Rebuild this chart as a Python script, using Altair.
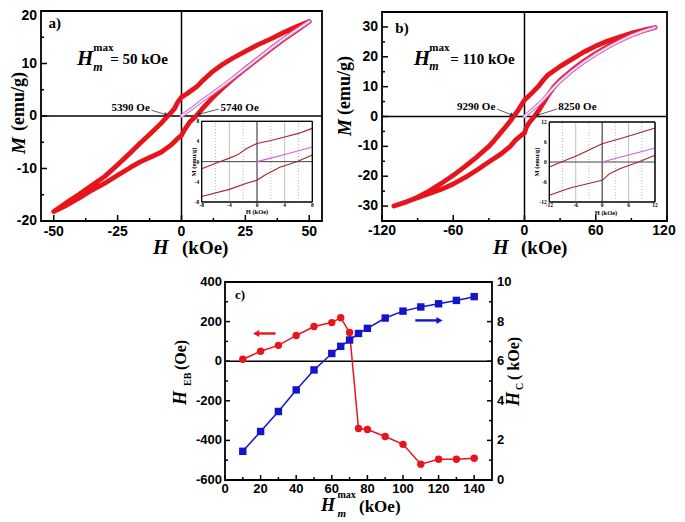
import altair as alt
import pandas as pd

# ---------------- data ----------------
# Panel a : H_m^max = 50 kOe  (H in kOe, M in emu/g)
A_UP_H = [50, 45, 40, 35, 30, 25, 20, 16, 12, 8, 6, 4, 2, 0, -1.5, -2.75, -4, -5.39, -8, -12, -16, -20, -25, -30, -35, -40, -45, -50]
A_UP_M = [18.0, 17.0, 15.9, 14.7, 13.6, 12.3, 11.0, 9.8, 8.4, 6.6, 5.6, 4.9, 4.2, 3.6, 2.6, 1.4, 0.7, 0.0, -1.4, -3.3, -5.1, -7.0, -9.3, -11.5, -13.2, -14.9, -16.5, -18.2]
A_LO_H = [-50, -45, -40, -35, -30, -25, -20, -16, -12, -8, -4, -1.3, 0, 1.1, 3.3, 5.74, 8, 12, 16, 20, 25, 30, 35, 40, 45, 50]
A_LO_M = [-18.2, -17.0, -15.6, -14.1, -12.8, -11.3, -9.8, -8.7, -7.8, -6.9, -5.5, -4.2, -3.7, -2.7, -1.1, 0.0, 1.3, 3.4, 5.3, 7.0, 9.0, 10.9, 12.8, 14.6, 16.3, 18.0]
A_VIR_H = [0, 2, 4, 8, 12, 16, 20, 25, 30, 35, 40, 45, 50]
A_VIR_M = [0.0, 0.7, 1.4, 2.9, 4.3, 5.7, 7.2, 9.1, 11.0, 12.9, 14.7, 16.4, 18.0]

# Panel b : H_m^max = 110 kOe
B_UP_H = [110, 100, 90, 80, 70, 60, 50, 40, 30, 20, 16, 12, 7.8, 4, 0, -2.4, -5.5, -9.29, -12, -16, -20, -25, -30, -40, -50, -60, -70, -80, -90, -100, -110]
B_UP_M = [29.8, 28.9, 27.9, 26.6, 25.3, 23.6, 21.6, 19.2, 16.8, 14.0, 12.3, 10.2, 8.5, 7.0, 5.5, 4.0, 2.0, 0.0, -1.5, -3.5, -5.4, -7.8, -10.0, -13.5, -16.7, -19.7, -22.4, -24.9, -27.0, -28.7, -30.0]
B_LO_H = [-110, -100, -90, -80, -70, -60, -50, -40, -30, -20, -12, -7.3, -2.4, 0, 1.7, 4, 8.25, 12, 16, 20, 25, 30, 40, 50, 60, 70, 80, 90, 100, 110]
B_LO_M = [-30.0, -28.6, -27.2, -25.8, -24.4, -22.6, -20.4, -17.9, -15.2, -12.6, -10.0, -7.8, -6.2, -5.5, -3.5, -2.0, 0.0, 2.0, 4.6, 7.2, 10.0, 12.1, 15.5, 18.5, 21.1, 23.4, 25.5, 27.3, 28.7, 29.8]
B_VIR_H = [0, 4, 8, 12, 16, 20, 25, 30, 40, 50, 60, 70, 80, 90, 100, 110]
B_VIR_M = [0.0, 1.4, 2.8, 4.2, 5.8, 7.6, 9.8, 11.8, 15.2, 18.2, 20.8, 23.1, 25.2, 27.1, 28.6, 29.8]

# Panel c
C_HM = [10, 20, 30, 40, 50, 60, 65, 70, 75, 80, 90, 100, 110, 120, 130, 140]
C_HEB = [10, 50, 80, 130, 175, 195, 220, 145, -340, -345, -380, -420, -520, -495, -495, -490]
C_HC = [1.45, 2.45, 3.46, 4.55, 5.56, 6.39, 6.75, 7.07, 7.40, 7.66, 8.18, 8.53, 8.74, 8.90, 9.07, 9.26]

# tick values
A_XT = [-50, -25, 0, 25, 50]
A_XM = [-37.5, -12.5, 12.5, 37.5]
A_YT = [-20, -10, 0, 10, 20]
A_YM = [-15, -5, 5, 15]
B_XT = [-120, -60, 0, 60, 120]
B_XM = [-90, -30, 30, 90]
B_YT = [-30, -20, -10, 0, 10, 20, 30]
B_YM = [-25, -15, -5, 5, 15, 25]
C_XT = [0, 20, 40, 60, 80, 100, 120, 140]
C_XM = [10, 30, 50, 70, 90, 110, 130]
C_YT = [-600, -400, -200, 0, 200, 400]
C_YM = [-500, -300, -100, 100, 300]
C_RT = [0, 2, 4, 6, 8, 10]
C_RM = [1, 3, 5, 7, 9]
IA_T = [-8, -4, 0, 4, 8]
IA_DOT = [-6, -2, 2, 6]
IA_SOL = [-4, 4]
IB_T = [-12, -6, 0, 6, 12]
IB_DOT = [-9, -3, 3, 9]
IB_SOL = [-6, 6]

# ---------------- style / layout ----------------
RED = "#e8141c"
DARKRED = "#a3242c"
PINK = "#d67ad6"
BLUE = "#1414cc"
SERIF = "Liberation Serif"
SANS = "Liberation Sans"

P = {
    "a": {"xd": [-55, 55], "xr": [33, 314], "yd": [-20, 20], "yr": [213, 3]},
    "b": {"xd": [-120, 120], "xr": [374, 659], "yd": [-35, 35], "yr": [213, 4]},
    "c": {"xd": [0, 150], "xr": [217, 484], "yd": [-600, 400], "yr": [472, 274]},
    "cr": {"xd": [0, 150], "xr": [217, 484], "yd": [0, 10], "yr": [472, 274]},
    "ia": {"xd": [-8, 8], "xr": [193.7, 304.3], "yd": [-8, 8], "yr": [194, 113.3]},
    "ib": {"xd": [-12, 12], "xr": [541.3, 647], "yd": [-12, 12], "yr": [194, 114]},
}


def X(p, f="x"):
    d = P[p]
    return alt.X(f"{f}:Q", scale=alt.Scale(domain=d["xd"], range=d["xr"], nice=False, zero=False), axis=None)


def Y(p, f="y"):
    d = P[p]
    return alt.Y(f"{f}:Q", scale=alt.Scale(domain=d["yd"], range=d["yr"], nice=False, zero=False), axis=None)


layers = []


def one():
    return pd.DataFrame({"z": [0]})


def label(text, x, y, size, font=SERIF, style="normal", weight="bold", align="left",
          baseline="middle", angle=0, color="black"):
    kw = dict(text=text, fontSize=size, font=font, fontStyle=style, fontWeight=weight,
              align=align, baseline=baseline, color=color)
    if angle:
        kw["angle"] = angle
    return alt.Chart(one()).mark_text(**kw).encode(x=alt.value(x), y=alt.value(y))


def dlabel(p, text, xv, yv, size, font=SERIF, style="normal", weight="bold", align="left",
           baseline="middle", color="black"):
    df = pd.DataFrame({"x": [xv], "y": [yv]})
    return alt.Chart(df).mark_text(text=text, fontSize=size, font=font, fontStyle=style,
                                   fontWeight=weight, align=align, baseline=baseline,
                                   color=color).encode(x=X(p), y=Y(p))


def path(p, hx, my, color, width, dash=None):
    df = pd.DataFrame({"x": hx, "y": my, "i": list(range(len(hx)))})
    kw = dict(color=color, strokeWidth=width, strokeJoin="round", strokeCap="round")
    if dash:
        kw["strokeDash"] = dash
    return alt.Chart(df).mark_line(**kw).encode(x=X(p), y=Y(p), order=alt.Order("i:Q"))


def within(h, m, lim):
    pts = [(a, b) for a, b in zip(h, m) if abs(a) <= lim + 1e-9]
    return [a for a, _ in pts], [b for _, b in pts]


def vrules(p, vals, y0, y1, color, width, dash=None):
    df = pd.DataFrame({"x": vals, "y": [y0] * len(vals), "y2": [y1] * len(vals)})
    kw = dict(color=color, strokeWidth=width)
    if dash:
        kw["strokeDash"] = dash
    return alt.Chart(df).mark_rule(**kw).encode(x=X(p), y=Y(p), y2=alt.Y2("y2"))


def hrules(p, vals, x0, x1, color, width, dash=None):
    df = pd.DataFrame({"y": vals, "x": [x0] * len(vals), "x2": [x1] * len(vals)})
    kw = dict(color=color, strokeWidth=width)
    if dash:
        kw["strokeDash"] = dash
    return alt.Chart(df).mark_rule(**kw).encode(y=Y(p), x=X(p), x2=alt.X2("x2"))


def xticks(p, vals, length, width=1.5):
    yb = P[p]["yr"][0]
    df = pd.DataFrame({"x": vals})
    return alt.Chart(df).mark_rule(color="black", strokeWidth=width).encode(
        x=X(p), y=alt.value(yb), y2=alt.value(yb - length))


def yticks(p, vals, length, side="left", width=1.5):
    if side == "left":
        xb, sg = P[p]["xr"][0], 1
    else:
        xb, sg = P[p]["xr"][1], -1
    df = pd.DataFrame({"y": vals})
    return alt.Chart(df).mark_rule(color="black", strokeWidth=width).encode(
        y=Y(p), x=alt.value(xb), x2=alt.value(xb + sg * length))


def xlab(p, vals, ypix, size, font=SANS, weight="bold", dx=0):
    df = pd.DataFrame({"x": vals, "t": [str(v) for v in vals]})
    kw = dict(align="center", baseline="middle", fontSize=size, font=font, fontWeight=weight, color="black")
    if dx:
        kw["dx"] = dx
    return alt.Chart(df).mark_text(**kw).encode(x=X(p), y=alt.value(ypix), text=alt.Text("t:N"))


def ylab(p, vals, xpix, size, align="right", font=SANS, weight="bold", dy=0):
    df = pd.DataFrame({"y": vals, "t": [str(v) for v in vals]})
    kw = dict(align=align, baseline="middle", fontSize=size, font=font, fontWeight=weight, color="black")
    if dy:
        kw["dy"] = dy
    return alt.Chart(df).mark_text(**kw).encode(y=Y(p), x=alt.value(xpix), text=alt.Text("t:N"))


def frame(p, width, fill=False):
    d = P[p]
    df = pd.DataFrame({"x": [d["xd"][0]], "x2": [d["xd"][1]], "y": [d["yd"][0]], "y2": [d["yd"][1]]})
    kw = dict(stroke="black", strokeWidth=width)
    if fill:
        kw.update(fill="white", fillOpacity=1)
    else:
        kw.update(fillOpacity=0)
    return alt.Chart(df).mark_rect(**kw).encode(x=X(p), x2=alt.X2("x2"), y=Y(p), y2=alt.Y2("y2"))


def arrow(p, x0, y0, x1, y1, color, width, shape, angle, size):
    df = pd.DataFrame({"x": [x0], "y": [y0], "x2": [x1], "y2": [y1]})
    ln = alt.Chart(df).mark_rule(color=color, strokeWidth=width).encode(
        x=X(p), y=Y(p), x2=alt.X2("x2"), y2=alt.Y2("y2"))
    hd = alt.Chart(pd.DataFrame({"x": [x1], "y": [y1]})).mark_point(
        shape=shape, filled=True, size=size, color=color, opacity=1, angle=angle).encode(x=X(p), y=Y(p))
    return [ln, hd]


def loop_panel(p, ip, up_h, up_m, lo_h, lo_m, vir_h, vir_m, lim, dots, sols, iticks):
    d = P[p]
    out = []
    out.append(vrules(p, [0], d["yd"][0], d["yd"][1], "black", 1.5))
    out.append(hrules(p, [0], d["xd"][0], d["xd"][1], "black", 1.5))
    out.append(path(p, up_h + lo_h, up_m + lo_m, RED, 4.8))
    out.append(path(p, vir_h, vir_m, PINK, 3.6))
    out.append(path(p, vir_h, vir_m, "white", 1.2))
    # inset
    di = P[ip]
    out.append(frame(ip, 1, fill=True))
    out.append(vrules(ip, dots, -lim, lim, "#9a9a9a", 0.7, dash=[1, 2]))
    out.append(vrules(ip, sols, -lim, lim, "#b0b0b0", 0.8))
    out.append(vrules(ip, [0], -lim, lim, "#222222", 1))
    out.append(hrules(ip, [0], -lim, lim, "#444444", 1))
    uh, um = within(up_h, up_m, lim)
    lh, lm = within(lo_h, lo_m, lim)
    vh, vm = within(vir_h, vir_m, lim)
    out.append(path(ip, uh, um, DARKRED, 1.1))
    out.append(path(ip, lh, lm, DARKRED, 1.1))
    out.append(path(ip, vh, vm, "#d65fd6", 1.1))
    out.append(frame(ip, 1))
    out.append(xlab(ip, iticks, di["yr"][0] + 3, 5.5, font=SERIF))
    out.append(ylab(ip, iticks, di["xr"][0] - 2.5, 5.5, font=SERIF))
    return out


# ---------------- panel a ----------------
layers += loop_panel("a", "ia", A_UP_H, A_UP_M, A_LO_H, A_LO_M, A_VIR_H, A_VIR_M, 8, IA_DOT, IA_SOL, IA_T)
layers.append(label("M (emu/g)", 186, 154, 6.5, angle=270, align="center"))
layers.append(label("H (kOe)", 249, 203.5, 6.5, align="center"))
layers += [
    dlabel("a", "a)", -52.1, 17.8, 15),
    dlabel("a", "H", -37.7, 10.9, 21, style="italic", align="center"),
    dlabel("a", "max", -34.5, 12.9, 11),
    dlabel("a", "m", -34.5, 9.3, 12, style="italic"),
    dlabel("a", "= 50 kOe", -27.9, 10.9, 15),
    dlabel("a", "5390 Oe", -12.4, 1.6, 11, align="right"),
    dlabel("a", "5740 Oe", 15.3, 1.6, 11),
]
layers += arrow("a", -11.8, 1.1, -6.0, 0.25, "#333333", 0.8, "triangle-right", 17, 18)
layers += arrow("a", 14.5, 1.3, 6.6, 0.3, "#333333", 0.8, "triangle-right", 165, 18)
layers += [
    xticks("a", A_XT, 6), xticks("a", A_XM, 3),
    yticks("a", A_YT, 6), yticks("a", A_YM, 3),
    xlab("a", A_XT, 224, 14),
    ylab("a", A_YT[:-1], 29, 14),
    ylab("a", A_YT[-1:], 29, 14, dy=5),
    frame("a", 1.8),
    label("M", 10.5, 146, 19, style="italic", angle=270),
    label("(emu/g)", 10.5, 123, 18, angle=270),
    label("H", 145, 246, 20, style="italic", baseline="alphabetic"),
    label("(kOe)", 174, 246, 19, baseline="alphabetic"),
]

# ---------------- panel b ----------------
layers += loop_panel("b", "ib", B_UP_H, B_UP_M, B_LO_H, B_LO_M, B_VIR_H, B_VIR_M, 12, IB_DOT, IB_SOL, IB_T)
layers.append(label("M (emu/g)", 529, 154, 6.5, angle=270, align="center"))
layers.append(label("H (kOe)", 598, 204.5, 6.5, align="center"))
layers += [
    dlabel("b", "b)", -108.8, 29.7, 15),
    dlabel("b", "H", -86.3, 19.1, 21, style="italic", align="center"),
    dlabel("b", "max", -80.2, 22.8, 11),
    dlabel("b", "m", -80.2, 16.9, 12, style="italic"),
    dlabel("b", "= 110 kOe", -62.5, 19.1, 15),
    dlabel("b", "9290 Oe", -24.6, 3.1, 11, align="right"),
    dlabel("b", "8250 Oe", 28.5, 3.1, 11),
]
layers += arrow("b", -23.2, 2.5, -10.5, 0.5, "#333333", 0.8, "triangle-right", 21, 18)
layers += arrow("b", 27.4, 2.5, 10.5, 0.4, "#333333", 0.8, "triangle-right", 163, 18)
layers += [
    xticks("b", B_XT, 6), xticks("b", B_XM, 3),
    yticks("b", B_YT, 6), yticks("b", B_YM, 3),
    xlab("b", B_XT[:-1], 223, 14),
    xlab("b", B_XT[-1:], 223, 14, dx=-3),
    ylab("b", B_YT, 370, 14),
    frame("b", 1.8),
    label("M", 337, 128, 19, style="italic", angle=270),
    label("(emu/g)", 337, 107, 18, angle=270),
    label("H", 485, 246, 20, style="italic", baseline="alphabetic"),
    label("(kOe)", 513, 246, 19, baseline="alphabetic"),
]

# ---------------- panel c ----------------
dfc = pd.DataFrame({"x": C_HM, "heb": C_HEB, "hc": C_HC})
layers += [
    hrules("c", [0], 0, 150, "black", 1.5),
    alt.Chart(dfc).mark_line(color=RED, strokeWidth=1.5).encode(x=X("c"), y=Y("c", "heb")),
    alt.Chart(dfc).mark_point(shape="circle", filled=True, size=55, color=RED, opacity=1).encode(
        x=X("c"), y=Y("c", "heb")),
    alt.Chart(dfc).mark_line(color=BLUE, strokeWidth=1.5).encode(x=X("cr"), y=Y("cr", "hc")),
    alt.Chart(dfc).mark_point(shape="square", filled=True, size=55, color=BLUE, opacity=1).encode(
        x=X("cr"), y=Y("cr", "hc")),
]
layers += arrow("c", 28.4, 140, 17.5, 140, RED, 2.4, "triangle-left", 0, 50)
layers += arrow("cr", 106.9, 8.06, 120.5, 8.06, BLUE, 2.4, "triangle-right", 0, 50)
layers += [
    dlabel("c", "c)", 5.6, 334, 13),
    xticks("c", C_XT, 5), xticks("c", C_XM, 3),
    yticks("c", C_YT, 5), yticks("c", C_YM, 3),
    yticks("cr", C_RT, 5, side="right"), yticks("cr", C_RM, 3, side="right"),
    xlab("c", C_XT, 481, 13), ylab("c", C_YT, 214, 13), ylab("cr", C_RT, 489, 13, align="left"),
    frame("c", 1.8),
    label("H", 173, 397, 18, style="italic", angle=270),
    label("EB", 180, 378, 10, angle=270),
    label("(Oe)", 173, 362, 16, angle=270),
    label("H", 505.5, 398, 18, style="italic", angle=270),
    label("C", 511.5, 382, 10, angle=270),
    label("( kOe)", 505.5, 372, 16, angle=270),
    label("H", 313, 503, 18, style="italic", baseline="alphabetic"),
    label("max", 329.5, 487, 10),
    label("m", 329.5, 506, 11, style="italic"),
    label("(kOe)", 351, 504, 17, baseline="alphabetic"),
]

chart = alt.layer(*layers).resolve_scale(x="independent", y="independent").properties(
    width=669, height=514, autosize=alt.AutoSizeParams(type="none"), padding=0
).configure_view(strokeWidth=0)

chart.save("out.html", embed_options={"renderer": "svg", "actions": False})
